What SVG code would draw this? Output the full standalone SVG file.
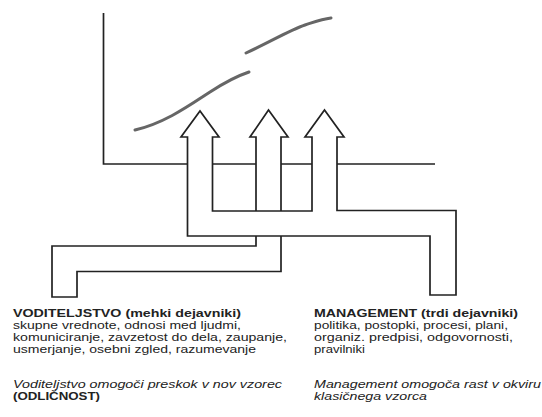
<svg xmlns="http://www.w3.org/2000/svg" width="542" height="417" viewBox="0 0 542 417">
<style>
.ln{fill:none;stroke:#222;stroke-width:1.7;stroke-linejoin:miter}
.tube{fill:#fff;stroke:#222;stroke-width:1.7;stroke-linejoin:miter}
.crv{fill:none;stroke:#666;stroke-width:3;stroke-linecap:round}
text{font-family:"Liberation Sans",Arial,Helvetica,sans-serif;font-size:11px;fill:#222}
.b{font-weight:bold}
.i{font-style:italic}
</style>
<rect width="542" height="417" fill="#fff"/>
<g id="axes">
<path class="ln" d="M103.5,13 L103.5,164 L435,164"/>
</g>
<g id="curves">
<path class="crv" d="M135,130 C165,123 190,105 210,92 S240,75 249,72"/>
<path class="crv" d="M246,53 C270,42 290,30 305,25 S322,19 331,18"/>
</g>
<g id="connectors">
<g id="leadership-tube">
<path class="tube" d="M256,246 L256,137 L250,137 L268.5,110 L288,137 L281,137 L281,271.5 L77,271.5 L77,297 L52,297 L52,246 Z"/>
</g>
<g id="management-tube">
<path class="tube" d="M187.5,236 L187.5,137 L181,137 L200,111 L219,137 L212.5,137 L212.5,211 L312,211 L312,137 L305,137 L324.5,110 L344,137 L337,137 L337,210.5 L456,210.5 L456,295 L430,295 L430,236 Z"/>
</g>
</g>
<g id="leadership-text">
<text class="b" x="13" y="317" textLength="228" lengthAdjust="spacingAndGlyphs">VODITELJSTVO (mehki dejavniki)</text>
<text x="13" y="329" textLength="228" lengthAdjust="spacingAndGlyphs">skupne vrednote, odnosi med ljudmi,</text>
<text x="13" y="341" textLength="274" lengthAdjust="spacingAndGlyphs">komuniciranje, zavzetost do dela, zaupanje,</text>
<text x="13" y="353" textLength="243" lengthAdjust="spacingAndGlyphs">usmerjanje, osebni zgled, razumevanje</text>
<text class="i" x="13" y="387.5" textLength="269" lengthAdjust="spacingAndGlyphs">Voditeljstvo omogoči preskok v nov vzorec</text>
<text class="b" x="13" y="399.5" textLength="87" lengthAdjust="spacingAndGlyphs">(ODLIČNOST)</text>
</g>
<g id="management-text">
<text class="b" x="314" y="317" textLength="204" lengthAdjust="spacingAndGlyphs">MANAGEMENT (trdi dejavniki)</text>
<text x="314" y="329" textLength="194" lengthAdjust="spacingAndGlyphs">politika, postopki, procesi, plani,</text>
<text x="314" y="341" textLength="199" lengthAdjust="spacingAndGlyphs">organiz. predpisi, odgovornosti,</text>
<text x="314" y="353" textLength="51" lengthAdjust="spacingAndGlyphs">pravilniki</text>
<text class="i" x="314" y="387.5" textLength="227" lengthAdjust="spacingAndGlyphs">Management omogoča rast v okviru</text>
<text class="i" x="314" y="399.5" textLength="113" lengthAdjust="spacingAndGlyphs">klasičnega vzorca</text>
</g>
</svg>
